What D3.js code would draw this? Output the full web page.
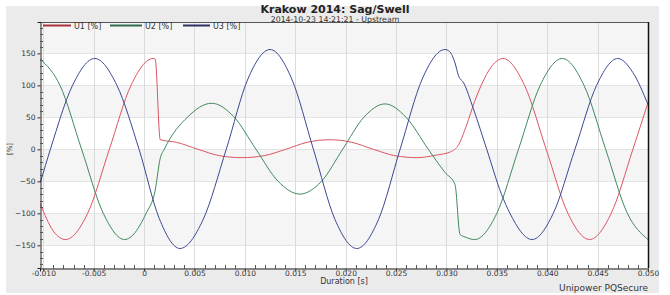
<!DOCTYPE html>
<html>
<head>
<meta charset="utf-8">
<script src="https://cdn.jsdelivr.net/npm/d3@7.9.0/dist/d3.min.js"></script>
<style>
  body { margin: 0; background: #fff; }
  svg { display: block; }
  text { font-family: "DejaVu Sans", Verdana, sans-serif; }
</style>
</head>
<body>
<svg id="chart" width="670" height="295"></svg>
<script>
// time in ms, values in %
const u1T = [-10.3, -9.0, -7.8, -5.6, -3.45, -1.3, 0.9, 1.1, 1.6, 3.2, 5.35, 7.5, 9.7, 11.9, 14.05, 16.2, 18.4, 20.6, 22.75, 24.9, 27.1, 29.0, 30.4, 31.2, 32.0, 32.8, 33.45, 34.5, 35.6, 37.75, 39.9, 42.05, 44.2, 46.35, 48.5, 50.0];
const u1V = [-85, -128, -141, -100, 0, 100, 142, 141, 15, 11, 0, -10, -13, -10, 0, 11, 15, 11, 0, -10, -13, -9, -4, 7, 38, 75, 100, 130, 142, 100, 0, -100, -141, -100, 0, 73];

const u2T = [-10.3, -8.35, -6.2, -4.05, -1.93, 0.2, 1.1, 1.6, 2.0, 4.35, 6.7, 8.9, 11.1, 13.3, 15.45, 17.6, 19.7, 21.8, 23.9, 26.0, 28.2, 29.85, 30.85, 31.35, 31.85, 32.8, 35.0, 37.15, 39.3, 41.5, 43.65, 45.8, 47.95, 50.0];
const u2V = [141, 100, 0, -100, -141, -100, -64, -14, 0, 51, 72, 51, 0, -50, -70, -50, 0, 50, 71, 50, 0, -36, -55, -133, -137, -141, -100, 0, 100, 142, 100, 0, -100, -141];

const u3T = [-10.3, -9.3, -7.1, -4.9, -2.7, -0.5, 1.5, 3.56, 5.85, 8.15, 10.3, 12.5, 14.65, 16.8, 18.95, 21.1, 23.25, 25.4, 27.6, 29.85, 30.3, 30.85, 31.2, 31.7, 32.66, 34.0, 35.48, 36.3, 38.5, 40.6, 42.75, 44.9, 47.0, 48.5, 50.0];
const u3V = [-52, 0, 100, 142, 100, 0, -108, -155, -110, 0, 110, 156, 110, 0, -110, -155, -110, 0, 110, 156, 153, 135, 115, 104, 64, 0, -71, -100, -141, -100, 0, 100, 142, 120, 70];

const seriesNames = ['U1 [%]', 'U2 [%]', 'U3 [%]'];
const lineColors = ['#dc5564', '#3f8a5c', '#3b4892'];
const legendColors = ['#a8303c', '#2f6a48', '#2b3060'];

const xTicks = [-0.010, -0.005, 0, 0.005, 0.010, 0.015, 0.020, 0.025, 0.030, 0.035, 0.040, 0.045, 0.050];
const xTickLabels = ['-0.010', '-0.005', '0', '0.005', '0.010', '0.015', '0.020', '0.025', '0.030', '0.035', '0.040', '0.045', '0.050'];
const yTicks = [-150, -100, -50, 0, 50, 100, 150];
const bandEdges = [-200, -150, -100, -50, 0, 50, 100, 150, 200];

const svg = d3.select('#chart');
const plotLeft = 40, plotRight = 648, plotTop = 22, plotBottom = 268;

const x = d3.scaleLinear().domain([-0.01033, 0.050]).range([plotLeft, plotRight]);
const y = d3.scaleLinear().domain([-185.5, 199]).range([plotBottom, plotTop]);

// outer panel
svg.append('rect')
  .attr('x', 6).attr('y', 6).attr('width', 653).attr('height', 287)
  .attr('fill', '#ebebeb');

svg.append('defs').append('clipPath').attr('id', 'plot-clip')
  .append('rect')
  .attr('x', plotLeft).attr('y', plotTop)
  .attr('width', plotRight - plotLeft).attr('height', plotBottom - plotTop);

const plot = svg.append('g').attr('clip-path', 'url(#plot-clip)');

plot.append('rect')
  .attr('x', plotLeft).attr('y', plotTop)
  .attr('width', plotRight - plotLeft).attr('height', plotBottom - plotTop)
  .attr('fill', '#ffffff');

// alternating bands
for (let i = 0; i < bandEdges.length - 1; i++) {
  if (i % 2 === 0) continue;
  plot.append('rect')
    .attr('x', plotLeft)
    .attr('y', y(bandEdges[i + 1]))
    .attr('width', plotRight - plotLeft)
    .attr('height', y(bandEdges[i]) - y(bandEdges[i + 1]))
    .attr('fill', '#f5f5f5');
}

// grid
plot.selectAll('.hgrid').data(yTicks).join('line')
  .attr('x1', plotLeft).attr('x2', plotRight)
  .attr('y1', d => Math.round(y(d)) + 0.5).attr('y2', d => Math.round(y(d)) + 0.5)
  .attr('stroke', '#e4e4e4');

plot.selectAll('.vgrid').data(xTicks).join('line')
  .attr('x1', d => Math.round(x(d)) + 0.5).attr('x2', d => Math.round(x(d)) + 0.5)
  .attr('y1', plotTop).attr('y2', plotBottom)
  .attr('stroke', '#dadada');

// waveforms
const line = d3.line()
  .x(d => x(d.t / 1000))
  .y(d => y(d.v))
  .curve(d3.curveMonotoneX);

const series = [[u1T, u1V], [u2T, u2V], [u3T, u3V]].map(([ts, vs]) =>
  ts.map((t, i) => ({ t: t, v: vs[i] })));

series.forEach((pts, i) => {
  plot.append('path')
    .attr('d', line(pts))
    .attr('fill', 'none')
    .attr('stroke', lineColors[i])
    .attr('stroke-width', 1);
});

// frame: top and right
svg.append('line')
  .attr('x1', plotLeft).attr('x2', plotRight + 0.5)
  .attr('y1', plotTop + 0.5).attr('y2', plotTop + 0.5)
  .attr('stroke', '#555');
svg.append('line')
  .attr('x1', plotRight + 0.5).attr('x2', plotRight + 0.5)
  .attr('y1', plotTop).attr('y2', plotBottom)
  .attr('stroke', '#111').attr('stroke-width', 1.5);

const tickFont = '"DejaVu Sans", Verdana, sans-serif';

// y axis
const yAxis = d3.axisLeft(y).tickValues(yTicks).tickSize(3).tickPadding(2);
const yAxisG = svg.append('g').attr('transform', `translate(${plotLeft + 0.5},0)`).call(yAxis);
yAxisG.select('.domain').attr('stroke', '#222');
yAxisG.selectAll('line').attr('stroke', '#333');
yAxisG.selectAll('text').attr('font-size', 7.5).attr('fill', '#333')
  .style('font-family', tickFont);

const yMinor = d3.range(-180, 200, 10).filter(d => d % 50 !== 0);
svg.selectAll('.yminor').data(yMinor).join('line')
  .attr('x1', plotLeft).attr('x2', plotLeft + 3)
  .attr('y1', d => Math.round(y(d)) + 0.5).attr('y2', d => Math.round(y(d)) + 0.5)
  .attr('stroke', '#555');

// x axis
const xAxis = d3.axisBottom(x).tickValues(xTicks)
  .tickFormat((d, i) => xTickLabels[i]).tickSize(3).tickPadding(0);
const xAxisG = svg.append('g').attr('transform', `translate(0,${plotBottom + 0.5})`).call(xAxis);
xAxisG.select('.domain').attr('stroke', '#222');
xAxisG.selectAll('line').attr('stroke', '#333');
xAxisG.selectAll('text').attr('font-size', 7.5).attr('fill', '#333')
  .attr('y', 2)
  .style('font-family', tickFont);

const xMinor = d3.range(-10, 51, 1).filter(d => d % 5 !== 0).map(d => d / 1000);
svg.selectAll('.xminor').data(xMinor).join('line')
  .attr('x1', d => Math.round(x(d)) + 0.5).attr('x2', d => Math.round(x(d)) + 0.5)
  .attr('y1', plotBottom - 3).attr('y2', plotBottom + 1)
  .attr('stroke', '#555');

// titles
svg.append('text')
  .attr('x', 335).attr('y', 12.8)
  .attr('text-anchor', 'middle')
  .attr('font-size', 11).attr('font-weight', 'bold').attr('fill', '#222')
  .text('Krakow 2014: Sag/Swell');
svg.append('text')
  .attr('x', 335).attr('y', 22.3)
  .attr('text-anchor', 'middle')
  .attr('font-size', 7.8).attr('fill', '#333')
  .text('2014-10-23 14:21:21 - Upstream');

svg.append('text')
  .attr('x', 344).attr('y', 284)
  .attr('text-anchor', 'middle')
  .attr('font-size', 8).attr('fill', '#333')
  .text('Duration [s]');

svg.append('text')
  .attr('x', 648).attr('y', 291)
  .attr('text-anchor', 'end')
  .attr('font-size', 9).attr('fill', '#333')
  .text('Unipower PQSecure');

svg.append('text')
  .attr('transform', 'translate(12,149) rotate(-90)')
  .attr('text-anchor', 'middle')
  .attr('font-size', 7).attr('fill', '#333')
  .text('[%]');

// legend
const legendX = [43, 110, 183];
const legendLen = [28, 32, 27];
seriesNames.forEach((name, i) => {
  svg.append('line')
    .attr('x1', legendX[i]).attr('x2', legendX[i] + legendLen[i])
    .attr('y1', 25.5).attr('y2', 25.5)
    .attr('stroke', legendColors[i]).attr('stroke-width', 2);
  svg.append('text')
    .attr('x', legendX[i] + legendLen[i] + 3).attr('y', 28.5)
    .attr('font-size', 8).attr('fill', '#333')
    .text(name);
});
</script>
</body>
</html>
